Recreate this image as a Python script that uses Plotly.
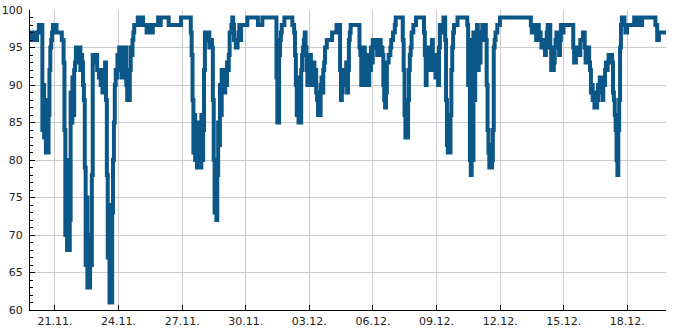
import pandas as pd
import plotly.graph_objects as go

# Start of the 30-day window shown
START = "2023-11-19 19:45"
END = "2023-12-19 19:45"

# Hours since START (change points of the stepped series)
hours = [
    0, 1, 3, 5, 7, 8, 10, 12, 13, 14, 15, 16, 17, 18, 19, 20, 21, 22, 23, 24, 25, 26, 30, 36,
    38, 39, 40, 41, 42, 43, 44, 45, 46, 47, 48, 49, 50, 51, 52, 53, 54, 55, 56, 57, 58, 59, 60,
    61, 62, 63, 64, 65, 66, 67, 68, 69, 70, 71, 73, 75, 76, 78, 79, 80, 81, 82, 83, 84, 85,
    86, 87, 88, 89, 90, 91, 92, 93, 94, 95, 96, 97, 98, 99, 100, 101, 102, 103, 104, 105,
    107, 108, 109, 110, 111, 112, 113, 114, 115, 116, 117,
    118, 122, 124, 125, 128, 132, 134, 135, 139, 145, 147, 148, 157, 171, 182,
    183, 184, 185, 186, 187, 188, 189, 190, 191, 192, 193, 194, 195, 196, 197, 198, 200, 202, 203, 205,
    206, 207, 208, 209, 210, 211, 212, 213, 214, 215, 216, 217, 218, 219, 220, 221, 222, 223, 224,
    225, 226, 228, 229, 230, 231, 233, 235, 236, 237,
    238, 239, 246, 258, 263, 279, 280, 282, 283, 284, 285, 288, 297, 299,
    300, 301, 302, 303, 304, 305, 306, 307, 308, 309, 310, 311, 312, 313, 314, 315, 316, 317, 318,
    319, 320, 321, 322, 323, 324, 325, 326, 327, 328, 329, 330, 331, 332, 333, 334, 336, 342, 347,
    351, 352, 353, 354, 355, 356, 357,
    358, 359, 360, 361, 362, 363, 373, 374, 375, 376, 377, 378, 379, 380, 381, 382, 383, 384, 385,
    386, 387, 388, 390, 392, 393, 395, 397, 399, 400, 401, 402, 403, 404, 406, 408, 409, 411, 413,
    414, 422, 423, 424, 425, 426, 427, 428, 429, 430, 431, 432, 434, 437, 446, 447, 448, 449, 450,
    451, 452, 453, 454, 455, 456, 457, 458, 459, 460, 461, 462, 463, 464, 466, 468,
    470, 471, 472, 473, 474, 475, 476, 477, 478, 479, 480, 484,
    495, 496, 497, 498, 499, 500, 501, 502, 503, 504, 505, 506, 507, 508, 509, 510, 511, 512,
    516, 517, 518, 519, 520, 521, 522, 523, 524, 525, 526, 527, 529, 532,
    567, 568, 570, 571, 572, 573, 574, 575, 576, 577, 578, 579, 580, 581, 582, 583, 584, 585, 586,
    589, 590, 591, 592, 593, 594, 595, 596, 597,
    599, 600, 601, 602, 604, 615, 616, 618, 619, 621, 622, 623, 626, 628, 629, 630, 631, 632, 633,
    634, 635, 636, 637, 638, 639, 640, 641, 642, 643, 644, 645, 646, 647, 648, 649, 650, 651, 652,
    653, 654, 655, 657, 658, 659, 660, 661, 662, 663, 664, 665, 666, 667, 668, 669, 670, 671, 672,
    673, 674, 676, 684, 685, 686, 688, 689, 691, 693, 708, 710, 712, 720,
]

# Percentage values at those change points
values = [
    96, 97, 96, 97, 96, 97, 98, 97, 98, 84, 90, 83, 88, 81, 83, 81, 86, 92, 95, 96, 97, 98, 97, 96,
    93, 84, 70, 80, 68, 75, 68, 72, 89, 85, 91, 86, 92, 93, 95, 94, 95, 93, 95, 92, 94, 93, 90,
    88, 79, 66, 75, 63, 65, 63, 70, 66, 78, 94, 93, 94, 92, 91, 92, 90, 91, 89, 90, 92, 93,
    88, 78, 67, 74, 61, 63, 61, 73, 80, 85, 90, 92, 91, 94, 93, 95, 92, 94, 91, 95,
    94, 95, 90, 88, 89, 88, 92, 95, 94, 96, 97,
    98, 99, 98, 99, 98, 97, 98, 97, 98, 99, 98, 99, 98, 99, 97,
    94, 88, 81, 86, 80, 84, 79, 85, 80, 83, 79, 86, 80, 84, 92, 97, 96, 97, 95, 96,
    95, 88, 80, 73, 76, 72, 78, 85, 82, 90, 86, 92, 90, 92, 89, 91, 90, 93, 92,
    94, 97, 98, 99, 98, 96, 95, 96, 97, 98,
    96, 98, 99, 98, 99, 91, 85, 94, 96, 97, 98, 99, 98, 97,
    94, 90, 86, 91, 85, 88, 85, 92, 94, 95, 96, 97, 95, 92, 90, 93, 90, 94, 90,
    93, 91, 93, 90, 92, 89, 88, 86, 88, 86, 90, 91, 89, 92, 93, 95, 96, 97, 98,
    92, 88, 89, 91, 90, 92, 91,
    93, 89, 92, 96, 97, 98, 95, 94, 90, 95, 92, 95, 93, 90, 94, 92, 90, 94, 92,
    95, 93, 96, 95, 96, 94, 96, 95, 94, 90, 88, 87, 89, 93, 94, 95, 96, 97, 98,
    99, 96, 92, 86, 83, 85, 83, 88, 92, 94, 95, 97, 98, 99, 97, 94, 90, 95, 92,
    94, 92, 95, 93, 96, 94, 92, 94, 91, 93, 91, 90, 95, 98, 97, 99,
    96, 88, 82, 81, 84, 81, 86, 92, 95, 97, 98, 99,
    98, 90, 96, 80, 78, 87, 80, 97, 88, 97, 92, 98, 92, 96, 93, 97, 96, 98,
    96, 90, 84, 81, 79, 82, 79, 80, 84, 95, 96, 97, 98, 99,
    98, 97, 98, 97, 98, 96, 97, 98, 96, 97, 96, 95, 96, 95, 96, 94, 95, 97, 98,
    95, 92, 94, 92, 93, 95, 96, 97, 96,
    94, 96, 98, 97, 98, 95, 93, 95, 94, 95, 94, 96, 97, 95, 93, 95, 93, 95, 93,
    92, 89, 90, 88, 89, 87, 89, 87, 88, 90, 89, 91, 89, 90, 88, 91, 90, 92, 93,
    92, 93, 94, 93, 94, 93, 89, 88, 86, 84, 80, 78, 84, 88, 95, 98, 99, 98, 99,
    98, 97, 98, 99, 98, 99, 98, 99, 98, 99, 98, 96, 97, 97,
]

times = pd.Timestamp(START) + pd.to_timedelta(hours, unit="h")

fig = go.Figure()
fig.add_trace(go.Scatter(
    x=times, y=values, mode="lines",
    line=dict(color="#0b5788", width=4, shape="hv"),
    hoverinfo="skip", showlegend=False,
))

axis_font = dict(family="DejaVu Sans", size=11, color="#222222")

fig.update_layout(
    width=685, height=330,
    margin=dict(l=30, r=19, t=10, b=20),
    paper_bgcolor="white", plot_bgcolor="white",
    font=axis_font,
    xaxis=dict(
        type="date", range=[START, END], automargin=False,
        tick0="2023-11-21", dtick=3 * 86400000, tickformat="%d.%m.",
        ticks="inside", ticklen=5, tickcolor="#000000",
        showline=True, linecolor="#000000", linewidth=1,
        showgrid=True, gridcolor="#cccccc", gridwidth=1,
        zeroline=False, tickfont=axis_font, ticklabelstandoff=1,
    ),
    yaxis=dict(
        range=[60, 100], dtick=5, tick0=60, automargin=False,
        ticks="inside", ticklen=5, tickcolor="#000000",
        minor=dict(dtick=1, ticks="inside", ticklen=3, tickcolor="#000000", showgrid=False),
        showline=True, linecolor="#000000", linewidth=1,
        showgrid=True, gridcolor="#cccccc", gridwidth=1,
        zeroline=False, tickfont=axis_font, ticklabelstandoff=4,
    ),
)

fig.write_html("out.html")
